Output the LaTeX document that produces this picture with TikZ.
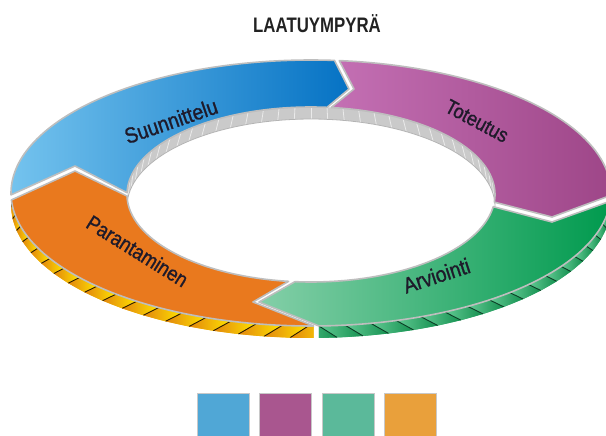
\documentclass[tikz,border=0pt]{standalone}
\usepackage{fontspec}
\usepackage{graphicx}
\setmainfont{Liberation Sans}
\newfontfamily\labfont[FakeBold=1.2]{Liberation Sans}
\definecolor{segline}{HTML}{BEBEBE}
\definecolor{labtext}{HTML}{1E1A2A}
\definecolor{titlecol}{HTML}{222222}
\definecolor{blueA}{HTML}{74C3EE}
\definecolor{blueB}{HTML}{0572C4}
\definecolor{purpA}{HTML}{C470B4}
\definecolor{purpB}{HTML}{9E4688}
\definecolor{greenA}{HTML}{84CFA8}
\definecolor{greenB}{HTML}{009A4E}
\definecolor{orangetop}{HTML}{E9791E}
\definecolor{orwallA}{HTML}{E2860E}
\definecolor{orwallB}{HTML}{FFE400}
\definecolor{orrib}{HTML}{2A1A00}
\definecolor{grwallA}{HTML}{62CA94}
\definecolor{grwallB}{HTML}{14904F}
\definecolor{grrib}{HTML}{0B3D25}
\definecolor{innerwall}{HTML}{CACACA}
\definecolor{innerrib}{HTML}{EAEAEA}
\definecolor{innerline}{HTML}{B4B4B4}
\definecolor{legblue}{HTML}{50A7D6}
\definecolor{legpurp}{HTML}{A9568F}
\definecolor{leggreen}{HTML}{5BB99A}
\definecolor{legorange}{HTML}{E9A03B}
\definecolor{legline}{HTML}{C8C8C8}
\begin{document}
\begin{tikzpicture}[x=1pt,y=-1pt,
  declare function={outx(\t)=311+300*cos(\t); outy(\t)=193-133*sin(\t);
                    inx(\t)=311+184*cos(\t); iny(\t)=194.5-87.5*sin(\t);},
  seg/.style={draw=segline, line width=1.6pt, line join=round},
  lab/.style={text=labtext, inner sep=0pt},
  leg/.style={draw=legline, line width=0.8pt}]
\useasboundingbox (0,0) rectangle (606,436);

% ---------- outer front wall under orange ----------
\begin{scope}
  \clip plot[domain=183:270.5,samples=60] ({outx(\x)},{outy(\x)})
     -- plot[domain=270.5:183,samples=60] ({outx(\x)},{outy(\x)+12}) -- cycle;
  \fill[orwallA!50!orwallB] (0,150) rectangle (340,350);
  \foreach \t in {176,181,...,271} {
    \shade[left color=orwallA, right color=orwallB]
      ({outx(\t+3.5)},{outy(\t+3.5)}) -- ({outx(\t+8.5)},{outy(\t+8.5)})
      -- ({outx(\t+5)},{outy(\t+5)+12}) -- ({outx(\t)},{outy(\t)+12}) -- cycle;
  }
  \foreach \t in {176,181,...,271} {
    \draw[orrib, line width=0.9pt] ({outx(\t+3.5)},{outy(\t+3.5)}) -- ({outx(\t)},{outy(\t)+12});
  }
\end{scope}

% ---------- outer front wall under green ----------
\begin{scope}
  \clip plot[domain=-88.5:-3.5,samples=60] ({outx(\x)},{outy(\x)})
     -- plot[domain=-3.5:-88.5,samples=60] ({outx(\x)},{outy(\x)+12}) -- cycle;
  \fill[grwallA!50!grwallB] (280,150) rectangle (620,350);
  \foreach \u in {-95,-90,...,5} {
    \shade[left color=grwallA, right color=grwallB]
      ({outx(\u-8.5)},{outy(\u-8.5)}) -- ({outx(\u-3.5)},{outy(\u-3.5)})
      -- ({outx(\u)},{outy(\u)+12}) -- ({outx(\u-5)},{outy(\u-5)+12}) -- cycle;
  }
  \foreach \u in {-95,-90,...,5} {
    \draw[grrib, line width=0.9pt] ({outx(\u-3.5)},{outy(\u-3.5)}) -- ({outx(\u)},{outy(\u)+12});
  }
\end{scope}

% ---------- inner back wall ----------
\fill[innerwall] plot[domain=0:360,samples=120] ({inx(\x)},{iny(\x)}) -- cycle;
\foreach \t in {5,10,...,175} {
  \draw[innerrib, line width=0.8pt] ({inx(\t)},{iny(\t)}) -- ({inx(\t+0.04*(\t-90))},{iny(\t+0.04*(\t-90))+12});
}
\fill[white] plot[domain=0:360,samples=120] ({inx(\x)},{iny(\x)+12}) -- cycle;
\draw[innerline, line width=0.8pt] plot[domain=-3:183,samples=80] ({inx(\x)},{iny(\x)+12});

% ---------- top surface segments ----------
% orange (Parantaminen)
\path[seg, fill=orangetop]
  plot[domain=270.5:183,samples=70] ({outx(\x)},{outy(\x)}) -- (75,171)
  -- plot[domain=181:263,samples=70] ({inx(\x)},{iny(\x)}) -- (253,302) -- cycle;
% blue (Suunnittelu)
\path[seg, left color=blueA, right color=blueB]
  plot[domain=180.8:85.5,samples=70] ({outx(\x)},{outy(\x)}) -- (349,89)
  -- plot[domain=85:178.8,samples=70] ({inx(\x)},{iny(\x)}) -- (75,166) -- cycle;
% purple (Toteutus)
\path[seg, left color=purpA, right color=purpB]
  plot[domain=84.6:-1,samples=70] ({outx(\x)},{outy(\x)}) -- (552,217)
  -- plot[domain=-5:83.7,samples=70] ({inx(\x)},{iny(\x)}) -- (354,89) -- cycle;
% green (Arviointi)
\path[seg, left color=greenA, right color=greenB]
  plot[domain=-3.5:-88.5,samples=70] ({outx(\x)},{outy(\x)}) -- (259,302)
  -- plot[domain=-95:-8,samples=70] ({inx(\x)},{iny(\x)}) -- (552,222) -- cycle;

% ---------- labels ----------
\node[lab, rotate=19, font=\labfont\fontsize{22}{22}\selectfont] (lsuun) at (171,121) {\scalebox{0.88}[1]{Suunnittelu}};
\node[lab, rotate=-28, font=\labfont\fontsize{20.5}{20}\selectfont] (ltot) at (477,121) {\scalebox{0.88}[1]{Toteutus}};
\node[lab, rotate=-32, font=\labfont\fontsize{21}{21}\selectfont] (lpar) at (137.5,251) {\scalebox{0.88}[1]{Parantaminen}};
\node[lab, rotate=18, font=\labfont\fontsize{22}{22}\selectfont] (larv) at (436.5,275.5) {\scalebox{0.88}[1]{Arviointi}};

% ---------- title ----------
\node[anchor=base, text=titlecol, inner sep=0pt, font=\bfseries\fontsize{21}{21}\selectfont] (title) at (317,33) {\scalebox{0.8}[1]{LAATUYMPYRÄ}};

% ---------- legend ----------
\draw[leg, fill=legblue] (197,393) rectangle (249,437);
\draw[leg, fill=legpurp] (259.5,393) rectangle (311.5,437);
\draw[leg, fill=leggreen] (322,393) rectangle (374,437);
\draw[leg, fill=legorange] (384.5,393) rectangle (436.5,437);
\end{tikzpicture}
\end{document}
